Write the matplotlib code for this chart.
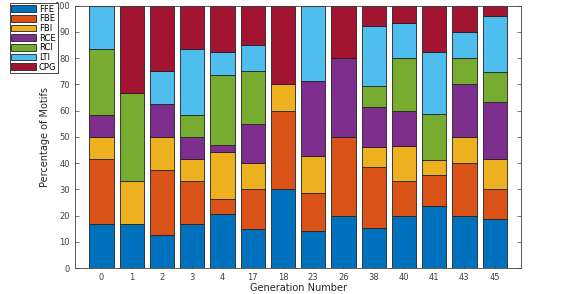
import numpy as np
import matplotlib.pyplot as plt

# generation numbers on the x axis
generations = ['0', '1', '2', '3', '4', '17', '18', '23', '26', '38', '40', '41', '43', '45']

# percentage of each motif type per generation
ffe = [16.67, 16.67, 12.5, 16.67, 20.59, 15, 30, 14.29, 20, 15.38, 20, 23.53, 20, 18.7]
fbe = [25, 0, 25, 16.67, 5.88, 15, 30, 14.29, 30, 23.08, 13.33, 11.76, 20, 11.4]
fbi = [8.33, 16.67, 12.5, 8.33, 17.65, 10, 10, 14.29, 0, 7.69, 13.33, 5.88, 10, 11.4]
rce = [8.33, 0, 12.5, 8.33, 2.94, 15, 0, 28.57, 30, 15.38, 13.33, 0, 20, 21.7]
rci = [25, 33.33, 0, 8.33, 26.47, 20, 0, 0, 0, 7.69, 20, 17.65, 10, 11.5]
lti = [16.67, 0, 12.5, 25, 8.82, 10, 0, 28.57, 0, 23.08, 13.33, 23.53, 10, 21.4]
cpg = [0, 33.33, 25, 16.67, 17.65, 15, 30, 0, 20, 7.69, 6.67, 17.65, 10, 3.9]

labels = ['FFE', 'FBE', 'FBI', 'RCE', 'RCI', 'LTI', 'CPG']
colors = ['#0072BD', '#D95319', '#EDB120', '#7E2F8E', '#77AC30', '#4DBEEE', '#A2142F']
series = [ffe, fbe, fbi, rce, rci, lti, cpg]

fig = plt.figure(figsize=(5.76, 2.94), dpi=100)
ax = fig.add_axes([0.130, 0.088, 0.775, 0.893])

x = np.arange(1, len(generations) + 1)
bottom = np.zeros(len(generations))
for vals, lab, col in zip(series, labels, colors):
    ax.bar(x, vals, 0.8, bottom=bottom, color=col, edgecolor='#222222',
           linewidth=0.6, label=lab)
    bottom += np.array(vals)

ax.set_xlim(0.12, 14.88)
ax.set_ylim(0, 100)
ax.set_xticks(x)
ax.set_xticklabels(generations)
ax.set_yticks(np.arange(0, 101, 10))
ax.tick_params(labelsize=6, colors='#404040', length=3, width=0.5,
               direction='in', right=True, top=False)
ax.tick_params(axis='x', length=2)
for s in ax.spines.values():
    s.set_color('#404040')
    s.set_linewidth(0.6)
ax.set_xlabel('Generation Number', fontsize=7, color='#262626', labelpad=1)
ax.set_ylabel('Percentage of Motifs', fontsize=7, color='#262626', labelpad=3)

# legend sits outside the axes, top left corner of the figure
leg = fig.legend(loc='upper left', bbox_to_anchor=(0.017, 0.99), fontsize=6,
                 handlelength=3.0, handleheight=0.85, handletextpad=0.3,
                 labelspacing=0.08, borderpad=0.2, borderaxespad=0,
                 fancybox=False, framealpha=1, edgecolor='#262626')
leg.get_frame().set_linewidth(0.6)

fig.savefig('out.png', dpi=100)
